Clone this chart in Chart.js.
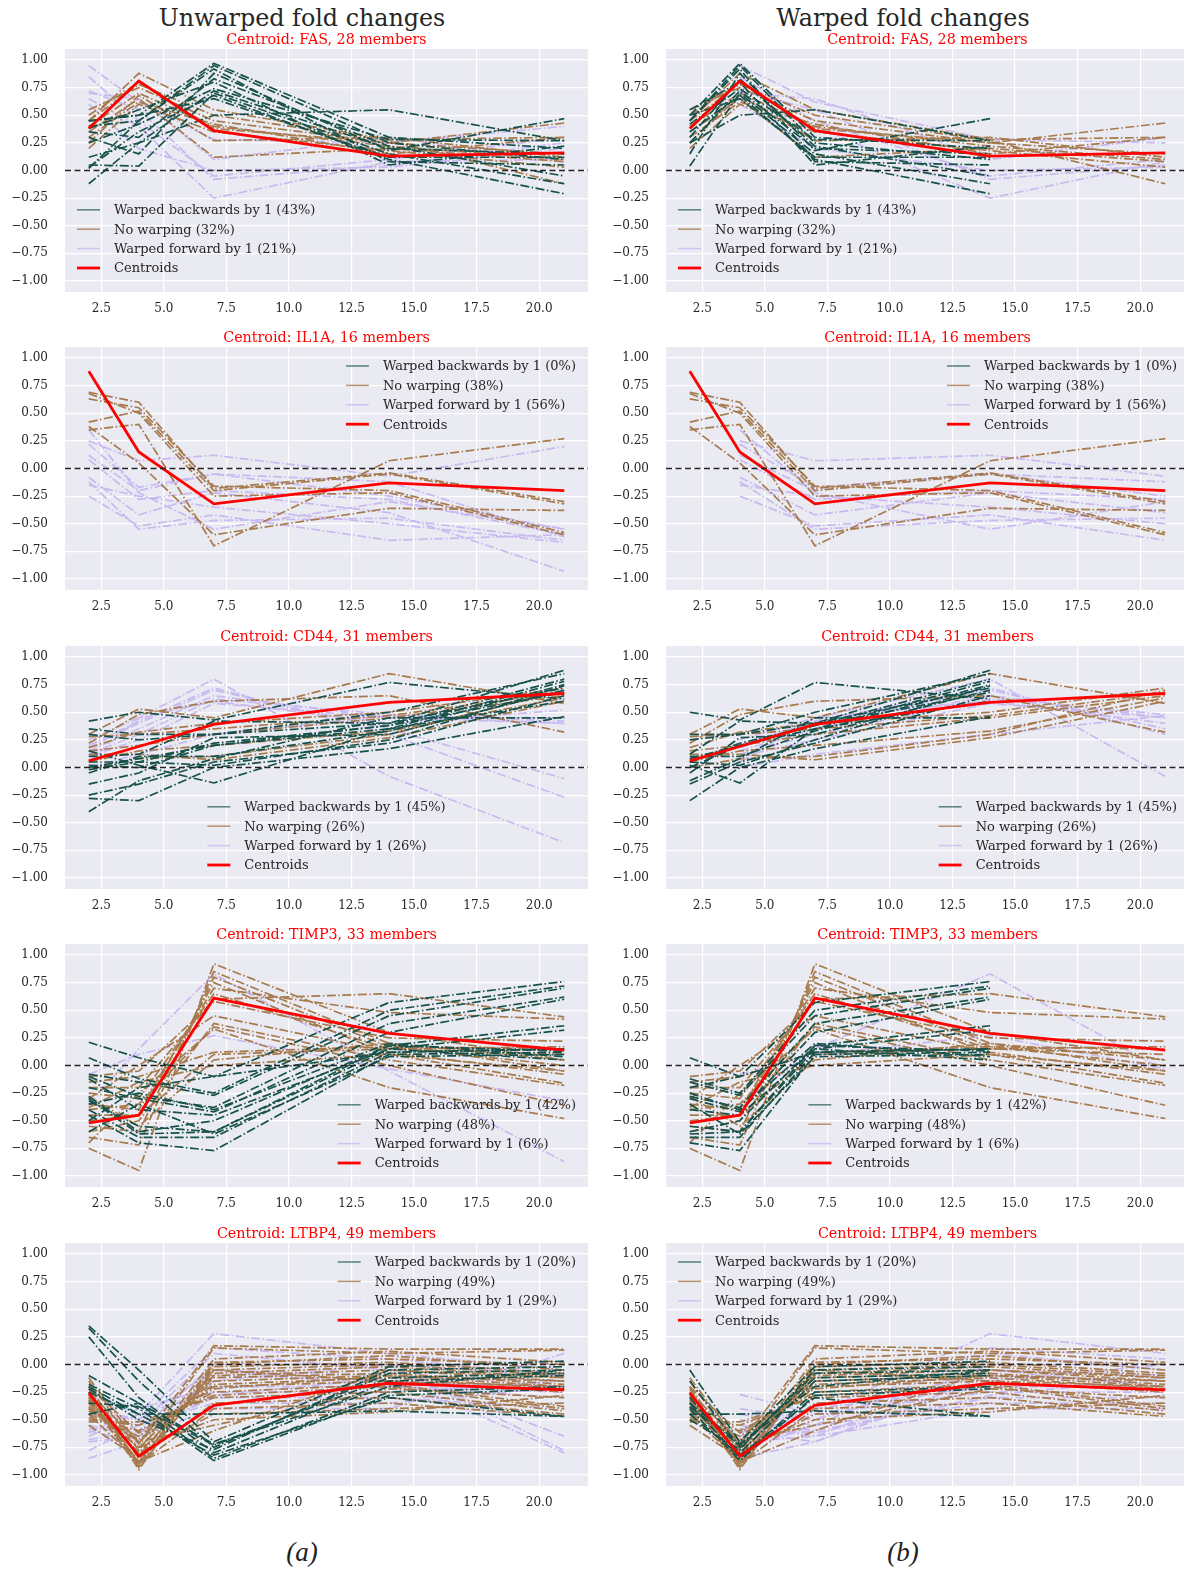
<!DOCTYPE html>
<html>
<head>
<meta charset="utf-8">
<script src="https://cdn.jsdelivr.net/npm/chart.js@4.4.0/dist/chart.umd.min.js"></script>
<style>
  body { margin: 0; background: #fff; }
  #fig { position: relative; width: 1184px; height: 1570px; overflow: hidden; background: #fff; font-family: "DejaVu Serif", serif; }
  .sup { position: absolute; top: 4px; font-size: 23.8px; line-height: 28px; color: #262626; transform: translateX(-50%); white-space: nowrap; }
  .cap { position: absolute; top: 1537px; font-family: "Liberation Serif", serif; font-style: italic; font-size: 27px; line-height: 30px; color: #222; transform: translateX(-50%); }
  canvas { position: absolute; }
</style>
</head>
<body>
<div id="fig">
  <div class="sup" style="left:302px">Unwarped fold changes</div>
  <div class="sup" style="left:903px">Warped fold changes</div>
  <div class="cap" style="left:302px">(a)</div>
  <div class="cap" style="left:903px">(b)</div>
</div>
<script>
// sampling days
const days = [2, 4, 7, 14, 21];

const genes = ['FAS', 'IL1A', 'CD44', 'TIMP3', 'LTBP4'];
const memberCounts = [28, 16, 31, 33, 49];
const pctBack = [43, 0, 45, 42, 20];
const pctNone = [32, 38, 26, 48, 49];
const pctFwd = [21, 56, 26, 6, 29];

// centroids
const centroidFAS = [0.38, 0.81, 0.36, 0.13, 0.16];
const centroidIL1A = [0.88, 0.15, -0.32, -0.13, -0.20];
const centroidCD44 = [0.06, 0.19, 0.39, 0.59, 0.67];
const centroidTIMP3 = [-0.52, -0.45, 0.61, 0.29, 0.14];
const centroidLTBP4 = [-0.26, -0.83, -0.37, -0.17, -0.23];

// members, unwarped values at the five days
const backFAS = [
  [0.45, 0.50, 0.97, 0.30, 0.20], [0.40, 0.45, 0.95, 0.25, 0.10], [0.35, 0.30, 0.83, 0.22, -0.05],
  [0.25, 0.42, 0.74, 0.28, 0.27], [0.12, 0.25, 0.72, 0.20, 0.15], [0.05, 0.04, 0.70, 0.15, -0.12],
  [0.03, 0.35, 0.68, 0.10, -0.21], [-0.12, 0.25, 0.50, 0.55, 0.27], [0.02, 0.45, 0.92, 0.08, 0.05],
  [0.30, 0.15, 0.88, 0.18, 0.47], [0.45, 0.50, 0.65, 0.12, 0.12], [0.38, 0.55, 0.80, 0.05, 0.22]
];
const noneFAS = [
  [0.45, 0.88, 0.55, 0.28, 0.30], [0.55, 0.75, 0.45, 0.25, 0.43], [0.40, 0.70, 0.40, 0.22, 0.10],
  [0.35, 0.65, 0.12, 0.20, 0.08], [0.20, 0.60, 0.35, 0.18, 0.03], [0.45, 0.78, 0.50, 0.27, -0.12],
  [0.30, 0.62, 0.42, 0.15, 0.30], [0.50, 0.80, 0.38, 0.25, 0.15], [0.25, 0.68, 0.27, 0.30, 0.12]
];
const fwdFAS = [
  [0.95, 0.62, 0.28, 0.25, 0.40], [0.85, 0.45, -0.05, 0.10, 0.30], [0.72, 0.55, -0.08, 0.05, 0.25],
  [0.65, 0.40, -0.25, 0.08, 0.10], [0.70, 0.65, 0.10, 0.30, 0.08], [0.60, 0.20, 0.00, 0.03, 0.20]
];

const backIL1A = [];
const noneIL1A = [
  [0.69, 0.60, -0.18, -0.04, -0.30], [0.63, 0.55, -0.16, -0.20, -0.58], [0.68, 0.50, -0.25, -0.22, -0.60],
  [0.42, 0.52, -0.20, -0.05, -0.32], [0.35, 0.40, -0.70, 0.07, 0.27], [0.38, 0.05, -0.60, -0.36, -0.38]
];
const fwdIL1A = [
  [0.25, 0.07, 0.12, -0.07, 0.20], [0.22, -0.17, -0.05, -0.12, -0.62], [0.12, -0.20, -0.05, -0.25, -0.55],
  [0.08, -0.28, -0.20, -0.28, -0.60], [-0.08, -0.42, -0.22, -0.40, -0.93], [-0.12, -0.55, -0.47, -0.45, -0.65],
  [-0.15, -0.25, -0.35, -0.50, -0.67], [-0.25, -0.52, -0.42, -0.65, -0.60], [0.35, -0.22, -0.55, -0.30, -0.55]
];

const backCD44 = [
  [0.42, 0.50, 0.43, 0.77, 0.62], [0.35, 0.30, 0.30, 0.50, 0.85], [0.10, 0.12, 0.42, 0.40, 0.88],
  [0.05, 0.05, 0.22, 0.38, 0.80], [0.02, 0.00, 0.20, 0.35, 0.78], [-0.05, 0.10, 0.10, 0.33, 0.75],
  [-0.15, -0.05, 0.27, 0.30, 0.70], [-0.25, -0.15, 0.05, 0.22, 0.65], [-0.28, -0.30, 0.00, 0.17, 0.46],
  [-0.40, -0.12, 0.08, 0.45, 0.45], [0.15, 0.02, -0.14, 0.35, 0.60], [0.30, 0.25, 0.30, 0.40, 0.72],
  [0.00, 0.08, 0.20, 0.38, 0.68], [-0.02, 0.05, 0.02, 0.25, 0.74]
];
const noneCD44 = [
  [0.30, 0.53, 0.45, 0.85, 0.58], [0.22, 0.48, 0.60, 0.65, 0.32], [0.18, 0.32, 0.40, 0.50, 0.72],
  [0.28, 0.30, 0.35, 0.47, 0.68], [0.15, 0.20, 0.30, 0.45, 0.65], [0.05, 0.15, 0.20, 0.33, 0.63],
  [0.12, 0.12, 0.07, 0.27, 0.60], [0.00, 0.08, 0.10, 0.30, 0.70]
];
const fwdCD44 = [
  [0.25, 0.45, 0.80, -0.08, -0.68], [0.20, 0.42, 0.72, 0.30, -0.27], [0.18, 0.40, 0.70, 0.35, -0.10],
  [0.15, 0.35, 0.65, 0.45, 0.40], [0.12, 0.30, 0.62, 0.48, 0.42], [0.10, 0.25, 0.58, 0.45, 0.45],
  [0.05, 0.45, 0.60, 0.40, 0.52], [0.00, 0.12, 0.30, 0.47, 0.40]
];

const backTIMP3 = [
  [0.21, 0.07, -0.10, 0.57, 0.76], [0.07, -0.12, -0.25, 0.50, 0.72], [-0.08, -0.15, -0.27, 0.45, 0.70],
  [-0.10, -0.28, -0.38, 0.38, 0.62], [-0.20, -0.30, -0.42, 0.30, 0.60], [-0.28, -0.60, -0.50, 0.18, 0.36],
  [-0.32, -0.55, -0.60, 0.15, 0.32], [-0.40, -0.65, -0.65, 0.12, 0.15], [-0.45, -0.70, -0.77, 0.10, 0.12],
  [-0.60, -0.35, -0.62, 0.08, 0.10], [-0.35, -0.25, -0.40, 0.20, 0.08], [-0.12, -0.40, -0.45, 0.15, 0.05],
  [-0.30, -0.62, -0.60, 0.18, 0.13], [-0.50, -0.20, -0.10, 0.12, 0.15]
];
const noneTIMP3 = [
  [-0.75, -0.95, 0.92, 0.30, 0.05], [-0.65, -0.72, 0.85, 0.20, -0.05], [-0.55, -0.60, 0.80, 0.17, 0.00],
  [-0.45, -0.45, 0.75, 0.10, -0.16], [-0.35, -0.40, 0.70, 0.48, 0.42], [-0.25, -0.30, 0.65, 0.15, 0.10],
  [-0.20, -0.20, 0.60, 0.65, 0.44], [-0.10, -0.05, 0.58, 0.25, 0.22], [-0.30, 0.00, 0.45, 0.12, -0.08],
  [-0.60, -0.50, 0.38, 0.05, -0.18], [-0.40, -0.35, 0.35, 0.00, -0.36], [-0.70, -0.25, 0.33, -0.20, -0.48],
  [-0.15, -0.10, 0.12, 0.17, 0.15], [-0.50, -0.45, 0.10, 0.15, 0.17], [-0.28, -0.55, 0.05, 0.20, 0.05],
  [-0.38, -0.15, 0.00, 0.10, -0.05]
];
const fwdTIMP3 = [
  [-0.35, 0.15, 0.83, -0.05, -0.87], [-0.08, 0.10, 0.27, -0.03, -0.32]
];

const backLTBP4 = [
  [0.35, -0.05, -0.70, -0.02, 0.03], [0.33, -0.15, -0.75, -0.08, -0.05], [0.25, -0.30, -0.80, -0.15, -0.10],
  [-0.10, -0.35, -0.85, -0.25, -0.20], [-0.18, -0.40, -0.87, -0.28, -0.22], [-0.20, -0.45, -0.82, -0.30, -0.47],
  [-0.22, -0.50, -0.77, -0.05, -0.02], [-0.25, -0.45, -0.45, -0.42, -0.47], [-0.35, -0.38, -0.73, -0.12, -0.08],
  [-0.45, -0.35, -0.72, -0.20, -0.05]
];
const noneLTBP4 = [
  [-0.12, -0.72, 0.17, 0.14, 0.14], [-0.15, -0.78, 0.15, 0.10, 0.13], [-0.20, -0.85, 0.05, 0.12, 0.02],
  [-0.22, -0.90, 0.02, 0.05, 0.00], [-0.25, -0.92, 0.00, 0.08, -0.05], [-0.28, -0.95, -0.02, 0.02, -0.08],
  [-0.30, -0.88, -0.05, 0.00, -0.10], [-0.32, -0.82, -0.08, -0.02, -0.12], [-0.35, -0.80, -0.10, -0.05, -0.15],
  [-0.38, -0.75, -0.12, -0.08, -0.18], [-0.40, -0.70, -0.15, -0.10, -0.20], [-0.42, -0.68, -0.18, -0.12, -0.22],
  [-0.45, -0.65, -0.20, -0.15, -0.25], [-0.48, -0.60, -0.25, -0.18, -0.38], [-0.50, -0.55, -0.28, -0.20, -0.40],
  [-0.52, -0.52, -0.30, -0.25, -0.42], [-0.55, -0.85, -0.35, -0.30, -0.45], [-0.30, -0.90, -0.40, -0.35, -0.47],
  [-0.35, -0.80, -0.45, -0.40, -0.35], [-0.40, -0.75, -0.50, -0.43, -0.28], [-0.25, -0.70, -0.55, -0.22, -0.30],
  [-0.45, -0.88, -0.60, -0.05, -0.12], [-0.20, -0.62, -0.22, -0.10, -0.15], [-0.33, -0.93, -0.05, -0.15, -0.20]
];
const fwdLTBP4 = [
  [-0.27, -0.45, 0.28, 0.10, -0.05], [-0.40, -0.50, 0.15, 0.05, -0.10], [-0.45, -0.55, 0.10, -0.05, -0.65],
  [-0.50, -0.60, 0.00, 0.00, -0.78], [-0.55, -0.65, -0.05, -0.10, -0.80], [-0.60, -0.70, -0.10, -0.15, -0.20],
  [-0.62, -0.40, -0.20, -0.20, -0.30], [-0.65, -0.45, -0.25, -0.25, -0.15], [-0.68, -0.60, -0.30, -0.30, -0.40],
  [-0.70, -0.65, -0.40, -0.40, 0.10], [-0.78, -0.55, -0.35, -0.35, -0.20], [-0.85, -0.70, -0.15, 0.00, -0.10],
  [-0.45, -0.50, -0.05, -0.20, -0.25], [-0.58, -0.62, -0.28, -0.12, -0.15]
];

const centroids = [centroidFAS, centroidIL1A, centroidCD44, centroidTIMP3, centroidLTBP4];
const backMembers = [backFAS, backIL1A, backCD44, backTIMP3, backLTBP4];
const noneMembers = [noneFAS, noneIL1A, noneCD44, noneTIMP3, noneLTBP4];
const fwdMembers = [fwdFAS, fwdIL1A, fwdCD44, fwdTIMP3, fwdLTBP4];

const xTicks = { min: 1.05, max: 21.95, step: 2.5 };
const yTicks = { min: -1.1, max: 1.1, step: 0.25 };

// layout
const plotTops = [47, 345, 644, 942, 1241];
const legendLoc = [
  ['lower left', 'lower left'],
  ['upper right', 'upper right'],
  ['lower center', 'lower right'],
  ['lower right', 'lower center'],
  ['upper right', 'upper left']
];

const TEAL = '#17524a', BROWN = '#a67a4c', LAV = '#c8b9f0', RED = '#ff0000';
const DASHDOT = [9, 2.5, 1.5, 2.5];
const FONT = '"DejaVu Serif", serif';

const plotBg = {
  id: 'plotBg',
  beforeDraw(chart) {
    const { ctx, chartArea: a } = chart;
    ctx.save();
    ctx.fillStyle = '#eaeaf2';
    ctx.fillRect(a.left, a.top, a.width, a.height);
    ctx.restore();
  }
};

// legend drawn inside the axes, no frame
const innerLegend = {
  id: 'innerLegend',
  afterDatasetsDraw(chart, args, opts) {
    const { ctx, chartArea: a } = chart;
    const items = opts.items;
    ctx.save();
    ctx.font = '13px ' + FONT;
    const tw = Math.max(...items.map(it => ctx.measureText(it.text).width));
    const hl = 23, gap = 14, step = 19.4;
    const w = hl + gap + tw;
    let x0;
    if (opts.loc.endsWith('left')) x0 = a.left + 12;
    else if (opts.loc.endsWith('right')) x0 = a.right - 12 - w;
    else x0 = (a.left + a.right) / 2 - w / 2;
    const y0 = opts.loc.startsWith('upper') ? a.top + 19 : a.bottom - 24 - step * (items.length - 1);
    items.forEach((it, k) => {
      const y = y0 + k * step;
      ctx.globalAlpha = it.alpha;
      ctx.strokeStyle = it.color;
      ctx.lineWidth = it.width;
      ctx.beginPath();
      ctx.moveTo(x0, y);
      ctx.lineTo(x0 + hl, y);
      ctx.stroke();
      ctx.globalAlpha = 1;
      ctx.fillStyle = '#262626';
      ctx.textBaseline = 'middle';
      ctx.fillText(it.text, x0 + hl + gap, y + 1);
    });
    ctx.restore();
  }
};

function series(xs, ys, color, width, dash) {
  return {
    data: xs.map((x, i) => ({ x: x, y: ys[i] })),
    borderColor: color, borderWidth: width, borderDash: dash,
    pointRadius: 0, fill: false, tension: 0
  };
}

function makePanel(gi, warped) {
  const fig = document.getElementById('fig');
  const canvas = document.createElement('canvas');
  canvas.width = 588;
  canvas.height = 290;
  canvas.style.left = (warped ? 601 : 0) + 'px';
  canvas.style.top = (plotTops[gi] - 15) + 'px';
  fig.appendChild(canvas);

  const datasets = [];
  datasets.push({
    data: [{ x: xTicks.min, y: 0 }, { x: xTicks.max, y: 0 }],
    borderColor: '#222', borderWidth: 1.7, borderDash: [6, 3.5], pointRadius: 0, fill: false
  });
  datasets.push(series(days, centroids[gi], RED, 2.8, []));
  backMembers[gi].forEach(v => {
    if (warped) datasets.push(series(days.slice(0, 4), v.slice(1), TEAL, 1.7, DASHDOT));
    else datasets.push(series(days, v, TEAL, 1.7, DASHDOT));
  });
  noneMembers[gi].forEach(v => datasets.push(series(days, v, BROWN, 1.7, DASHDOT)));
  fwdMembers[gi].forEach(v => {
    if (warped) datasets.push(series(days.slice(1), v.slice(0, 4), LAV, 1.7, DASHDOT));
    else datasets.push(series(days, v, LAV, 1.7, DASHDOT));
  });

  const tickFont = { family: FONT, size: 12 };
  new Chart(canvas, {
    type: 'line',
    data: { datasets: datasets },
    plugins: [plotBg, innerLegend],
    options: {
      responsive: false,
      animation: false,
      events: [],
      layout: { padding: 0 },
      plugins: {
        legend: { display: false },
        tooltip: { enabled: false },
        title: {
          display: true,
          fullSize: false,
          text: 'Centroid: ' + genes[gi] + ', ' + memberCounts[gi] + ' members',
          color: RED,
          font: { family: FONT, size: 14.3, weight: 'normal', lineHeight: '16px' },
          padding: { top: 0, bottom: 1 }
        },
        innerLegend: {
          loc: legendLoc[gi][warped ? 1 : 0],
          items: [
            { text: 'Warped backwards by 1 (' + pctBack[gi] + '%)', color: TEAL, width: 1.5, alpha: 0.7 },
            { text: 'No warping (' + pctNone[gi] + '%)', color: BROWN, width: 1.5, alpha: 0.8 },
            { text: 'Warped forward by 1 (' + pctFwd[gi] + '%)', color: LAV, width: 1.5, alpha: 0.8 },
            { text: 'Centroids', color: RED, width: 2.8, alpha: 1 }
          ]
        }
      },
      scales: {
        x: {
          type: 'linear',
          min: xTicks.min, max: xTicks.max,
          border: { display: false },
          grid: { color: '#ffffff', lineWidth: 1.2, drawTicks: false },
          ticks: {
            stepSize: xTicks.step, includeBounds: false, padding: 10, autoSkip: false, maxRotation: 0,
            color: '#262626', font: tickFont,
            callback: v => v.toFixed(1)
          },
          afterFit(s) { s.height = 30; }
        },
        y: {
          type: 'linear',
          min: yTicks.min, max: yTicks.max,
          border: { display: false },
          grid: { color: '#ffffff', lineWidth: 1.2, drawTicks: true, tickLength: 15, tickColor: 'rgba(0,0,0,0)' },
          ticks: {
            stepSize: yTicks.step, includeBounds: false, padding: 2, autoSkip: false,
            color: '#262626', font: tickFont,
            callback: v => (v < 0 ? '\u2212' : '') + Math.abs(v).toFixed(2)
          },
          afterFit(s) { s.width = 65; }
        }
      }
    }
  });
}

for (let gi = 0; gi < genes.length; gi++) {
  makePanel(gi, false);
  makePanel(gi, true);
}
</script>
</body>
</html>
